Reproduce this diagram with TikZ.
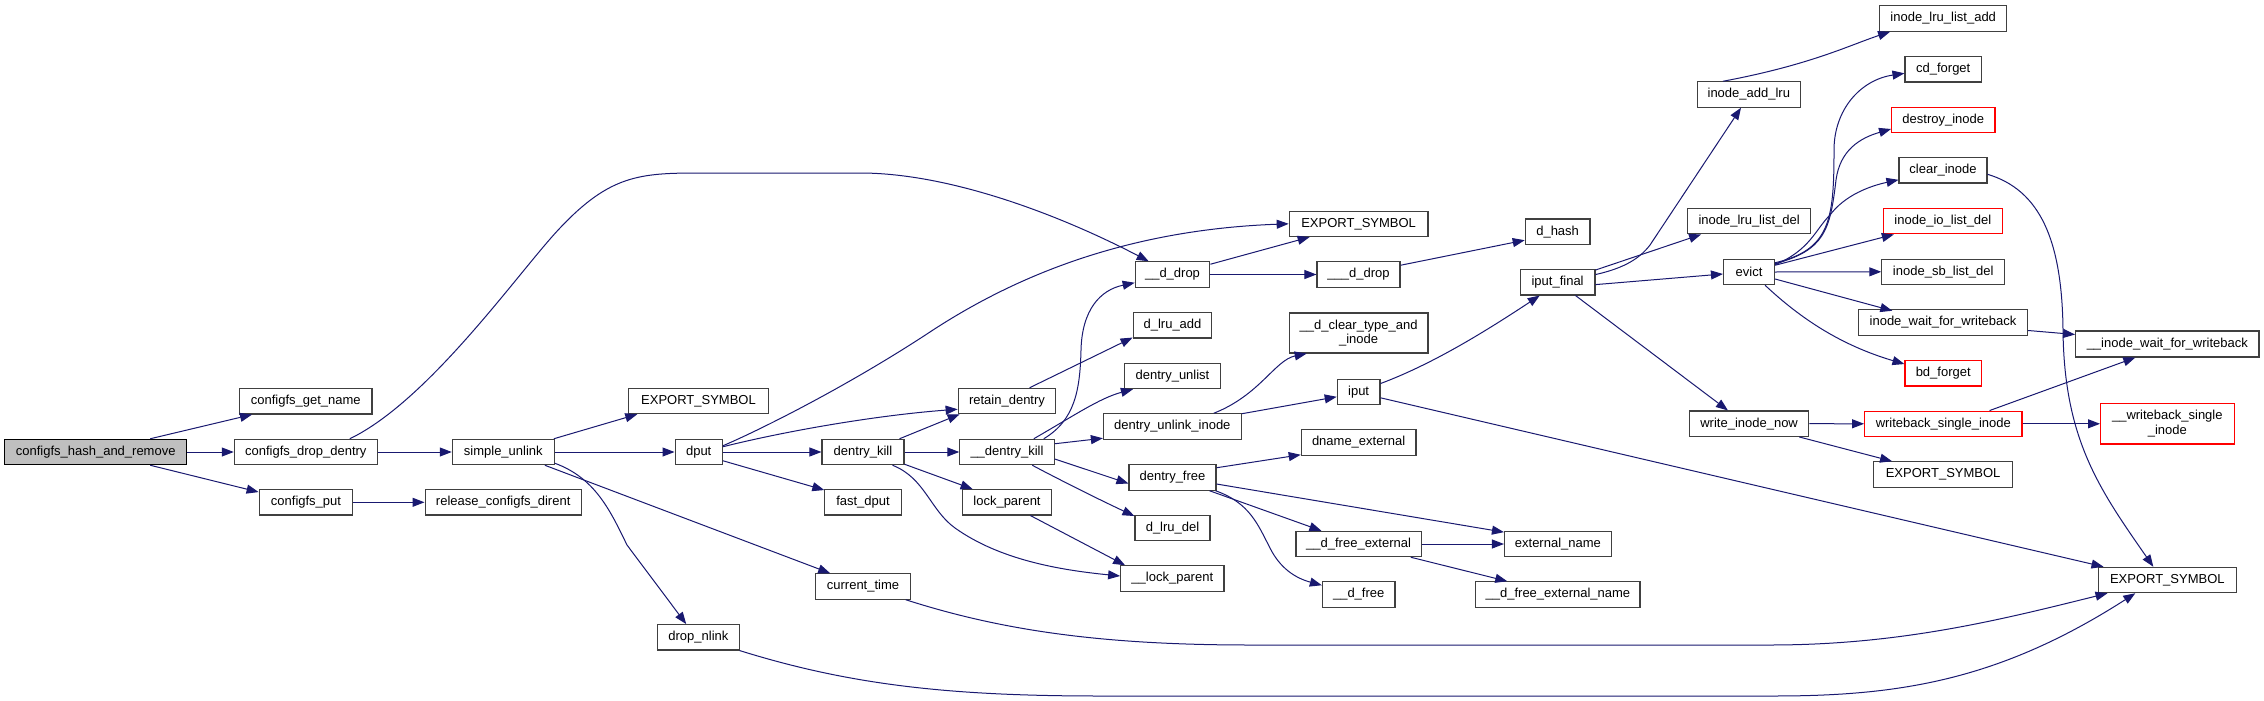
\documentclass[tikz,border=0pt]{standalone}
\usepackage{fontspec}
\setmainfont{Liberation Sans}
\usetikzlibrary{arrows.meta}
\definecolor{midnight}{HTML}{191970}
\definecolor{boxline}{HTML}{404040}
\tikzset{
  box/.style={draw=boxline, line width=1.1pt, minimum height=25.4pt, inner sep=0pt, align=center, fill=white, font=\fontsize{13pt}{14.5pt}\selectfont},
  redbox/.style={box, draw=red},
  mainbox/.style={box, fill=black!25, draw=black},
  e/.style={draw=midnight, line width=1pt, -{Triangle[length=12pt,width=9pt]}},
}
\begin{document}
\begin{tikzpicture}[x=1pt,y=-1pt]
\fill[white] (0,0) rectangle (2264,701);
\useasboundingbox (0,0) rectangle (2264,701);
% nodes
\node[mainbox, minimum width=182pt] (hr) at (95.7,452) {configfs\_hash\_and\_remove};
\node[box, minimum width=132.4pt] (gn) at (305.8,401.3) {configfs\_get\_name};
\node[box, minimum width=143pt] (dd) at (305.8,452) {configfs\_drop\_dentry};
\node[box, minimum width=93.7pt] (cp) at (306,502.3) {configfs\_put};
\node[box, minimum width=102pt] (su) at (503.3,452) {simple\_unlink};
\node[box, minimum width=156.3pt] (rcd) at (503.2,502.3) {release\_configfs\_dirent};
\node[box, minimum width=139.3pt] (es1) at (698.5,401) {EXPORT\_SYMBOL};
\node[box, minimum width=47.3pt] (dput) at (698.7,452) {dput};
\node[box, minimum width=94.5pt] (ct) at (863,586.5) {current\_time};
\node[box, minimum width=81.3pt] (dn) at (698.4,637.3) {drop\_nlink};
\node[box, minimum width=97.7pt] (rd) at (1007,401) {retain\_dentry};
\node[box, minimum width=82pt] (dk) at (863,452) {dentry\_kill};
\node[box, minimum width=76.3pt] (fd) at (863,502.3) {fast\_dput};
\node[box, minimum width=94.4pt] (ddk) at (1007,452) {\_\_dentry\_kill};
\node[box, minimum width=89.7pt] (lp) at (1007,502.3) {lock\_parent};
\node[box, minimum width=74.6pt] (ddrop) at (1172.5,274.5) {\_\_d\_drop};
\node[box, minimum width=78.7pt] (dla) at (1172.5,325.3) {d\_lru\_add};
\node[box, minimum width=96pt] (dul) at (1172.5,376) {dentry\_unlist};
\node[box, minimum width=137.8pt] (dui) at (1172.3,426.5) {dentry\_unlink\_inode};
\node[box, minimum width=87pt] (df) at (1172.5,477.5) {dentry\_free};
\node[box, minimum width=75pt] (dld) at (1172.5,527.8) {d\_lru\_del};
\node[box, minimum width=103.3pt] (lpp) at (1172.3,578.5) {\_\_lock\_parent};
\node[box, minimum width=138.8pt] (es2) at (1358.6,223.8) {EXPORT\_SYMBOL};
\node[box, minimum width=83pt] (dddrop) at (1358.5,274.5) {\_\_\_d\_drop};
\node[box, minimum width=138.8pt, minimum height=40pt] (dcti) at (1358.6,333) {\_\_d\_clear\_type\_and\\\_inode};
\node[box, minimum width=42.7pt] (iput) at (1358.6,391.8) {iput};
\node[box, minimum width=114.7pt] (dne) at (1358.6,442.5) {dname\_external};
\node[box, minimum width=125.3pt] (dfe) at (1358.6,544) {\_\_d\_free\_external};
\node[box, minimum width=72.6pt] (dfr) at (1358.7,594.5) {\_\_d\_free};
\node[box, minimum width=64.7pt] (dh) at (1557.6,231.7) {d\_hash};
\node[box, minimum width=74.7pt] (ipf) at (1557.6,282.3) {iput\_final};
\node[box, minimum width=106.8pt] (en) at (1557.9,544) {external\_name};
\node[box, minimum width=164.2pt] (dfen) at (1557.9,594.5) {\_\_d\_free\_external\_name};
\node[box, minimum width=102.5pt] (ial) at (1748.8,94.5) {inode\_add\_lru};
\node[box, minimum width=123pt] (ild) at (1749.1,221.2) {inode\_lru\_list\_del};
\node[box, minimum width=51pt] (ev) at (1749,272) {evict};
\node[box, minimum width=119.2pt] (win) at (1749.1,423.7) {write\_inode\_now};
\node[box, minimum width=127.1pt] (illa) at (1943.2,18.5) {inode\_lru\_list\_add};
\node[box, minimum width=76.4pt] (cdf) at (1943.2,69.3) {cd\_forget};
\node[redbox, minimum width=103.4pt] (di) at (1943.3,120) {destroy\_inode};
\node[box, minimum width=88pt] (ci) at (1943,170.3) {clear\_inode};
\node[redbox, minimum width=119pt] (iild) at (1942.9,221.2) {inode\_io\_list\_del};
\node[box, minimum width=122.8pt] (isld) at (1943.2,271.8) {inode\_sb\_list\_del};
\node[box, minimum width=169.3pt] (iwfw) at (1943,322.5) {inode\_wait\_for\_writeback};
\node[redbox, minimum width=76.4pt] (bdf) at (1943.2,373.3) {bd\_forget};
\node[redbox, minimum width=157.4pt] (wsi) at (1943.3,423.8) {writeback\_single\_inode};
\node[box, minimum width=139pt] (es3) at (1943.1,474.5) {EXPORT\_SYMBOL};
\node[box, minimum width=183.4pt, minimum height=26pt] (iiwfw) at (2167.3,344) {\_\_inode\_wait\_for\_writeback};
\node[redbox, minimum width=133.5pt, minimum height=40.3pt] (wsi2) at (2167.3,423.8) {\_\_writeback\_single\\\_inode};
\node[box, minimum width=138.5pt] (es4) at (2167.3,580) {EXPORT\_SYMBOL};
% edges
\draw[e] ([xshift=-37pt]hr.north east) -- ([xshift=13pt]gn.south west);
\draw[e] (hr.east) -- (dd.west);
\draw[e] ([xshift=-37pt]hr.south east) -- ([yshift=-3pt]cp.north west);
\draw[e] ([xshift=-28pt]dd.north east) .. controls (430,400) and (520,270) .. (560,228) .. controls (610,175) and (640,173) .. (700,173) -- (860,173) .. controls (950,173) and (1060,215) .. ([xshift=14pt]ddrop.north west);
\draw[e] (dd.east) -- (su.west);
\draw[e] (cp.east) -- (rcd.west);
\draw[e] ([xshift=-1pt]su.north east) -- ([xshift=9pt]es1.south west);
\draw[e] (su.east) -- (dput.west);
\draw[e] ([xshift=-10pt]su.south east) -- ([xshift=15pt]ct.north west);
\draw[e] ([yshift=2pt]su.south east) .. controls (595,478) and (610,510) .. (627,545) -- ([xshift=29pt]dn.north west);
\draw[e] ([yshift=-7pt]dput.north east) .. controls (760,430) and (850,385) .. (933,330) .. controls (1010,280) and (1120,230) .. (es2.west);
\draw[e] ([yshift=-8pt]dput.north east) .. controls (790,430) and (880,415) .. ([yshift=5pt]rd.south west);
\draw[e] (dput.east) -- (dk.west);
\draw[e] ([yshift=4.5pt]dput.south east) -- ([yshift=-1pt]fd.north west);
\draw[e] ([xshift=-5pt]dk.north east) -- ([xshift=2pt]rd.south west);
\draw[e] (dk.east) -- (ddk.west);
\draw[e] ([yshift=1pt]dk.south east) -- ([xshift=11pt]lp.north west);
\draw[e] ([xshift=-12pt]dk.south east) .. controls (925,478) and (930,510) .. (955,528) .. controls (1000,560) and (1060,570) .. ([yshift=2.5pt]lpp.west);
\draw[e] ([xshift=-22pt]lp.south east) -- ([xshift=5pt]lpp.north west);
\draw[e] ([xshift=72pt]rd.north west) -- ([yshift=1pt]dla.south west);
\draw[e] ([xshift=-11pt]ddk.north east) .. controls (1075,420) and (1080,390) .. (1081,350) .. controls (1082,310) and (1100,290) .. ([yshift=5pt]ddrop.south west);
\draw[e] ([xshift=-21pt]ddk.north east) .. controls (1075,415) and (1100,398) .. ([xshift=9pt]dul.south west);
\draw[e] ([yshift=-5pt]ddk.north east) -- ([yshift=1.5pt]dui.south west);
\draw[e] ([yshift=-7pt]ddk.east) -- ([yshift=-6pt]df.west);
\draw[e] ([xshift=-22.5pt]ddk.south east) .. controls (1060,480) and (1100,500) .. ([yshift=-1.5pt]dld.north west);
\draw[e] ([yshift=-3pt]ddrop.north east) -- ([xshift=21pt]es2.south west);
\draw[e] (ddrop.east) -- (dddrop.west);
\draw[e] ([yshift=-4pt]dddrop.north east) -- ([yshift=-8.5pt]dh.west);
\draw[e] ([xshift=-28pt]dui.north east) .. controls (1260,395) and (1275,360) .. ([xshift=18pt]dcti.south west);
\draw[e] ([yshift=-0.5pt]dui.north east) -- ([yshift=-5pt]iput.west);
\draw[e] ([yshift=-5pt]iput.north east) .. controls (1430,365) and (1480,335) .. ([xshift=20pt]ipf.south west);
\draw[e] ([yshift=-6pt]iput.east) -- ([xshift=6pt]es4.north west);
\draw[e] ([yshift=-3.5pt]df.north east) -- ([yshift=1pt]dne.south west);
\draw[e] ([yshift=-6.5pt]df.east) -- ([yshift=-1.4pt]en.north west);
\draw[e] ([xshift=-7pt]df.south east) -- ([xshift=26pt]dfe.north west);
\draw[e] ([xshift=-1pt]df.south east) .. controls (1250,503) and (1258,525) .. (1270,548) .. controls (1280,568) and (1295,578) .. ([yshift=-4pt]dfr.north west);
\draw[e] (dfe.east) -- (en.west);
\draw[e] ([xshift=-11pt]dfe.south east) -- ([xshift=32pt]dfen.north west);
\draw[e] ([yshift=-5.5pt]ipf.north east) .. controls (1625,268) and (1640,258) .. (1650,245) -- ([xshift=44pt]ial.south west);
\draw[e] ([yshift=-1pt]ipf.north east) -- ([xshift=14pt]ild.south west);
\draw[e] ([yshift=-2.3pt]ipf.east) -- ([yshift=-2pt]ev.west);
\draw[e] ([xshift=-20pt]ipf.south east) -- ([xshift=39pt]win.north west);
\draw[e] ([xshift=26pt]ial.north west) .. controls (1810,65) and (1850,45) .. ([xshift=11pt]illa.south west);
\draw[e] ([yshift=-4pt]ev.north east) .. controls (1830,250) and (1834,220) .. (1834,150) .. controls (1834,110) and (1860,80) .. ([yshift=-4pt]cdf.west);
\draw[e] ([yshift=-5pt]ev.north east) .. controls (1825,250) and (1830,230) .. (1836,180) .. controls (1840,150) and (1860,138) .. ([yshift=-9pt]di.west);
\draw[e] ([yshift=-6pt]ev.north east) .. controls (1810,250) and (1815,230) .. (1830,215) .. controls (1845,195) and (1870,186) .. ([yshift=-9.5pt]ci.west);
\draw[e] ([yshift=-6.5pt]ev.north east) -- ([xshift=11pt]iild.south west);
\draw[e] (ev.east) -- (isld.west);
\draw[e] ([yshift=-7pt]ev.east) -- ([xshift=34.5pt,yshift=-1.5pt]iwfw.north west);
\draw[e] ([xshift=-10pt]ev.south east) .. controls (1800,318) and (1840,345) .. ([yshift=-4pt]bdf.north west);
\draw[e] ([yshift=-4pt]ci.east) .. controls (2040,190) and (2062,240) .. (2063,330) .. controls (2064,440) and (2100,490) .. ([xshift=-14pt]es4.north);
\draw[e] ([yshift=-8pt]iwfw.east) -- ([yshift=9.5pt]iiwfw.west);
\draw[e] (win.east) -- (wsi.west);
\draw[e] ([xshift=-10pt]win.south east) -- ([xshift=19pt]es3.north west);
\draw[e] ([xshift=-33pt]wsi.north east) -- ([xshift=-32pt]iiwfw.south);
\draw[e] (wsi.east) -- (wsi2.west);
\draw[e] ([xshift=-5pt]ct.south east) .. controls (1000,630) and (1100,645) .. (1250,645) -- (1770,645) .. controls (1900,645) and (2000,620) .. ([xshift=10pt]es4.south west);
\draw[e] (dn.south east) .. controls (850,685) and (950,696) .. (1100,696) -- (1774,696) .. controls (1900,696) and (2000,680) .. ([xshift=-32pt]es4.south);
\end{tikzpicture}
\end{document}
